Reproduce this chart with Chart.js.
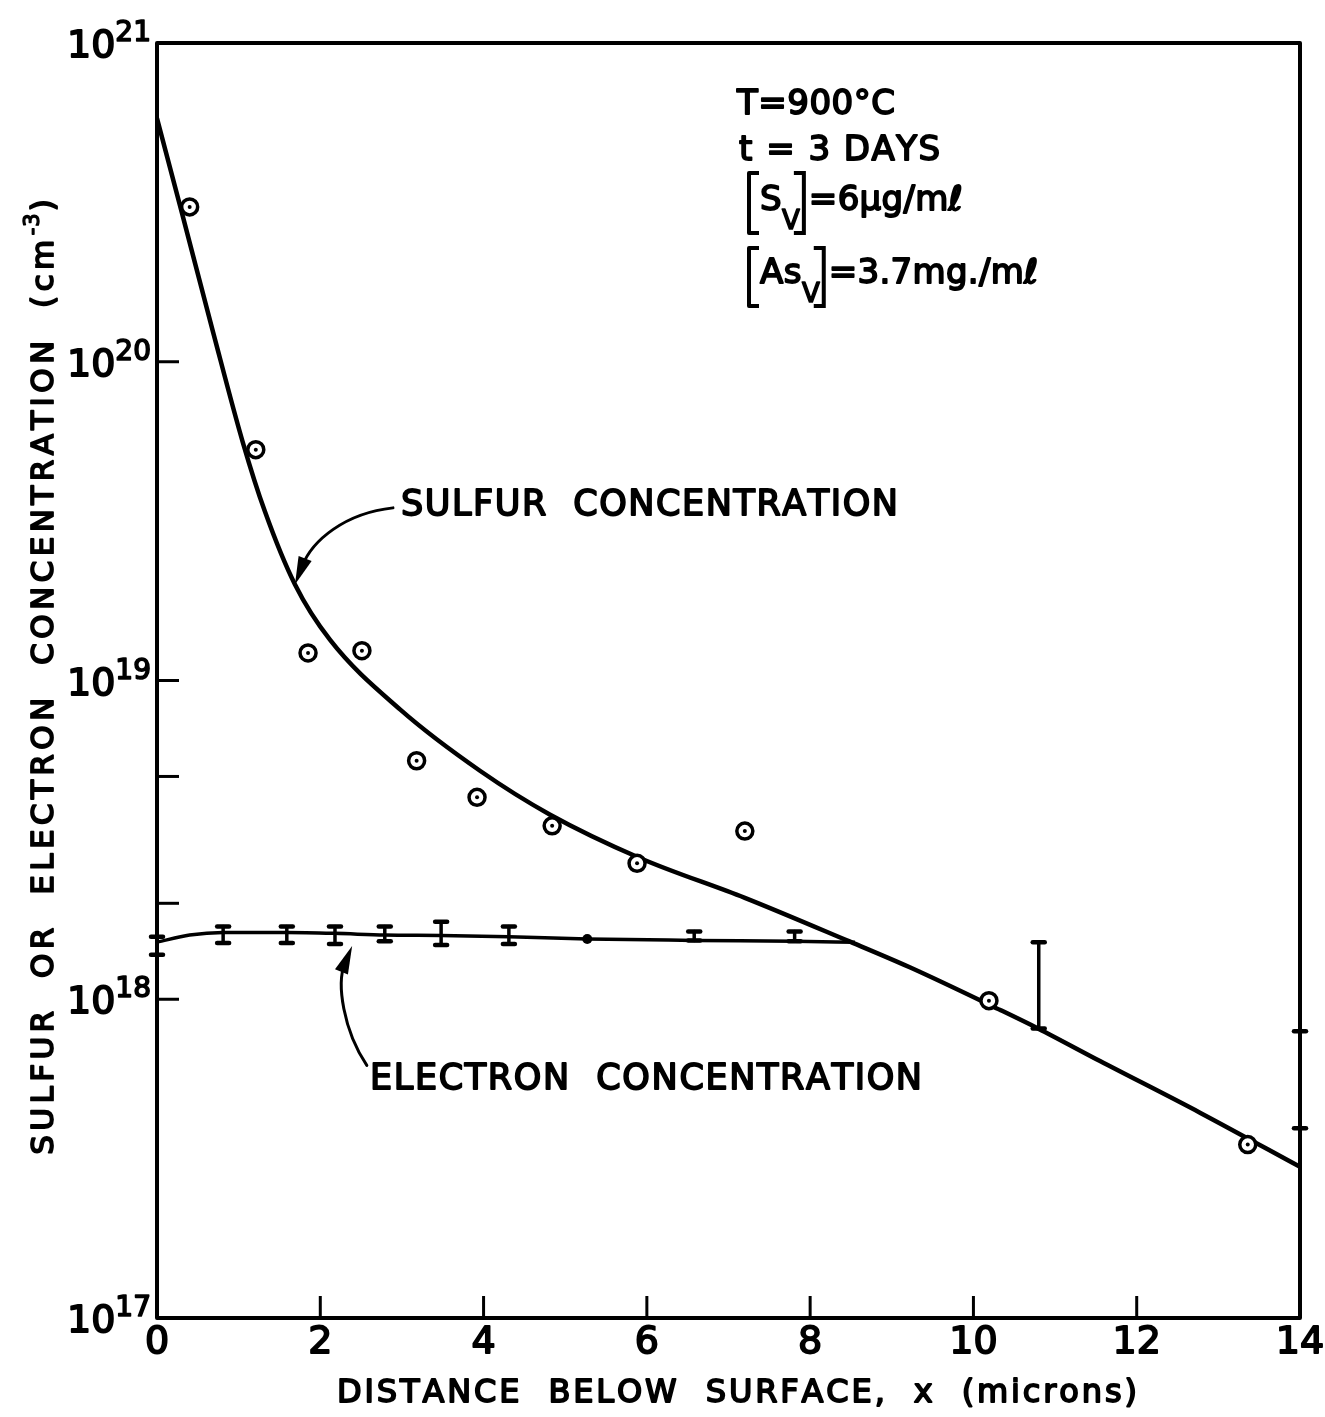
<!DOCTYPE html>
<html>
<head>
<meta charset="utf-8">
<script src="https://cdn.jsdelivr.net/npm/chart.js@4.4.1/dist/chart.umd.min.js"></script>
<style>
  html, body { margin: 0; padding: 0; background: #fff; }
  canvas { display: block; }
</style>
</head>
<body>
<canvas id="profileChart" width="1325" height="1417"></canvas>
<script>
// sulfur profile (smooth curve)
const sulfurCurveX = [0, 0.31, 0.69, 1.05, 1.32, 1.69, 2.12, 2.98, 3.96, 4.81, 5.92, 7.20, 8.45, 9.22, 10.33, 10.79, 11.55, 12.78, 14];
const sulfurCurveY = [5.8e20, 2.9e20, 1.23e20, 5.6e19, 3.4e19, 2.0e19, 1.34e19, 8.1e18, 5.2e18, 3.8e18, 2.77e18, 2.08e18, 1.53e18, 1.26e18, 9.25e17, 8.1e17, 6.4e17, 4.4e17, 2.98e17];

// measured sulfur points
const sulfurX = [0.40, 1.21, 1.85, 2.51, 3.18, 3.92, 4.84, 5.88, 7.20, 10.19, 13.36];
const sulfurY = [3.06e20, 5.3e19, 1.22e19, 1.24e19, 5.6e18, 4.3e18, 3.5e18, 2.67e18, 3.37e18, 9.9e17, 3.5e17];

// electron concentration curve
const electronCurveX = [0, 0.40, 0.81, 1.59, 2.18, 2.79, 3.48, 4.31, 5.27, 6.58, 7.81, 8.55];
const electronCurveY = [1.51e18, 1.59e18, 1.62e18, 1.62e18, 1.61e18, 1.59e18, 1.585e18, 1.57e18, 1.545e18, 1.53e18, 1.52e18, 1.51e18];

// electron measurements with their ranges
const electronX  = [0, 0.81, 1.59, 2.18, 2.79, 3.48, 4.31, 6.58, 7.81, 10.80, 14];
const electronLo = [1.38e18, 1.50e18, 1.50e18, 1.49e18, 1.52e18, 1.48e18, 1.49e18, 1.53e18, 1.52e18, 8.1e17, 3.94e17];
const electronHi = [1.57e18, 1.69e18, 1.69e18, 1.69e18, 1.69e18, 1.75e18, 1.69e18, 1.63e18, 1.63e18, 1.51e18, 7.94e17];
const electronDotX = [5.27];
const electronDotY = [1.545e18];

const xTicks = [0, 2, 4, 6, 8, 10, 12, 14];
const yDecades = [17, 18, 19, 20, 21];
const yInnerTicks = [1e18, 2e18, 5e18, 1e19, 1e20];

const FONT = '"DejaVu Sans", sans-serif';

function toPoints(xs, ys) {
  return xs.map((x, i) => ({ x: x, y: ys[i] }));
}

// letters drawn one by one so the spacing can be opened up
function spacedWidth(ctx, str, gap) {
  let w = 0;
  for (const ch of str) w += ctx.measureText(ch).width + gap;
  return w - gap;
}
function drawSpaced(ctx, str, x, y, gap) {
  for (const ch of str) {
    ctx.fillText(ch, x, y);
    ctx.strokeText(ch, x, y);
    x += ctx.measureText(ch).width + gap;
  }
  return x;
}
function gapFor(ctx, str, width) {
  const n = [...str].length;
  const natural = spacedWidth(ctx, str, 0);
  return (width - natural) / (n - 1);
}

function ink(ctx, size, weight) {
  ctx.font = size + 'px ' + FONT;
  ctx.fillStyle = '#000';
  ctx.strokeStyle = '#000';
  ctx.lineWidth = weight || 1.8;
  ctx.lineJoin = 'round';
  ctx.textAlign = 'left';
  ctx.textBaseline = 'alphabetic';
}

function arrow(ctx, p0, c1, c2, p3) {
  ctx.save();
  ctx.lineWidth = 3;
  ctx.strokeStyle = '#000';
  ctx.lineCap = 'round';
  const ang = Math.atan2(p3.y - c2.y, p3.x - c2.x);
  const headLen = 28, headW = 7;
  const bx = p3.x - Math.cos(ang) * headLen * 0.7;
  const by = p3.y - Math.sin(ang) * headLen * 0.7;
  ctx.beginPath();
  ctx.moveTo(p0.x, p0.y);
  ctx.bezierCurveTo(c1.x, c1.y, c2.x, c2.y, bx, by);
  ctx.stroke();
  ctx.beginPath();
  ctx.moveTo(p3.x, p3.y);
  ctx.lineTo(p3.x - Math.cos(ang) * headLen + Math.sin(ang) * headW,
             p3.y - Math.sin(ang) * headLen - Math.cos(ang) * headW);
  ctx.lineTo(p3.x - Math.cos(ang) * headLen - Math.sin(ang) * headW,
             p3.y - Math.sin(ang) * headLen + Math.cos(ang) * headW);
  ctx.closePath();
  ctx.fillStyle = '#000';
  ctx.fill();
  ctx.restore();
}

const decorations = {
  id: 'decorations',
  afterDatasetsDraw(chart) {
    const ctx = chart.ctx;
    const xs = chart.scales.x, ys = chart.scales.y;
    ctx.save();
    ctx.strokeStyle = '#000';
    ctx.lineCap = 'round';
    // electron ranges
    electronX.forEach((x, i) => {
      const px = xs.getPixelForValue(x);
      const lo = ys.getPixelForValue(electronLo[i]);
      const hi = ys.getPixelForValue(electronHi[i]);
      ctx.lineWidth = 3.5;
      ctx.beginPath();
      ctx.moveTo(px, lo);
      ctx.lineTo(px, hi);
      ctx.stroke();
      ctx.lineWidth = 4.5;
      [lo, hi].forEach(py => {
        ctx.beginPath();
        ctx.moveTo(px - 6, py);
        ctx.lineTo(px + 6, py);
        ctx.stroke();
      });
    });
    ctx.restore();
  },
  afterDraw(chart) {
    const ctx = chart.ctx;
    const a = chart.chartArea;
    const xs = chart.scales.x, ys = chart.scales.y;
    const at = (x, y) => ({ x: xs.getPixelForValue(x), y: ys.getPixelForValue(y) });
    ctx.save();

    // frame
    ctx.strokeStyle = '#000';
    ctx.lineWidth = 4;
    ctx.lineJoin = 'round';
    ctx.strokeRect(a.left, a.top, a.right - a.left, a.bottom - a.top);

    // inward tick marks
    ctx.lineWidth = 3;
    xTicks.slice(1, -1).forEach(v => {
      const px = xs.getPixelForValue(v);
      ctx.beginPath();
      ctx.moveTo(px, a.bottom);
      ctx.lineTo(px, a.bottom - 22);
      ctx.stroke();
    });
    yInnerTicks.forEach(v => {
      const py = ys.getPixelForValue(v);
      ctx.beginPath();
      ctx.moveTo(a.left, py);
      ctx.lineTo(a.left + 22, py);
      ctx.stroke();
    });

    // x tick labels
    ink(ctx, 38, 1.8);
    ctx.textAlign = 'center';
    xTicks.forEach(v => {
      const px = xs.getPixelForValue(v);
      ctx.fillText(String(v), px, a.bottom + 35);
      ctx.strokeText(String(v), px, a.bottom + 35);
    });

    // y tick labels, powers of ten
    yDecades.forEach(e => {
      const py = ys.getPixelForValue(Math.pow(10, e));
      ink(ctx, 38, 1.8);
      const wBase = ctx.measureText('10').width;
      ctx.font = '28px ' + FONT;
      const wExp = ctx.measureText(String(e)).width;
      const x0 = a.left - 6 - wBase - wExp;
      ink(ctx, 38, 1.8);
      ctx.fillText('10', x0, py + 14);
      ctx.strokeText('10', x0, py + 14);
      ink(ctx, 28, 1.6);
      ctx.fillText(String(e), x0 + wBase, py - 2);
      ctx.strokeText(String(e), x0 + wBase, py - 2);
    });

    // x axis title
    const xTitle = 'DISTANCE  BELOW  SURFACE,  x  (microns)';
    ink(ctx, 32);
    let gap = gapFor(ctx, xTitle, 800);
    let w = spacedWidth(ctx, xTitle, gap);
    drawSpaced(ctx, xTitle, 737 - w / 2, a.bottom + 84, gap);

    // y axis title, rotated
    ctx.save();
    ctx.translate(53, 677);
    ctx.rotate(-Math.PI / 2);
    const yMain = 'SULFUR  OR  ELECTRON  CONCENTRATION  (cm';
    ink(ctx, 31);
    gap = gapFor(ctx, yMain, 915);
    const wMain = spacedWidth(ctx, yMain, gap);
    ctx.font = '21px ' + FONT;
    const wSup = spacedWidth(ctx, '-3', 1);
    ctx.font = '31px ' + FONT;
    const wClose = ctx.measureText(')').width;
    const total = wMain + gap + wSup + 2 + wClose;
    let cx = -total / 2;
    cx = drawSpaced(ctx, yMain, cx, 0, gap);
    ink(ctx, 21, 1.4);
    cx = drawSpaced(ctx, '-3', cx, -14, 1);
    ink(ctx, 31);
    drawSpaced(ctx, ')', cx + 1, 0, 0);
    ctx.restore();

    // curve captions
    const sText = 'SULFUR  CONCENTRATION';
    ink(ctx, 35);
    gap = gapFor(ctx, sText, 497);
    drawSpaced(ctx, sText, 401, 515, gap);
    const eText = 'ELECTRON  CONCENTRATION';
    gap = gapFor(ctx, eText, 552);
    drawSpaced(ctx, eText, 370, 1089, gap);

    arrow(ctx, at(2.89, 3.48e19), at(2.30, 3.35e19), at(1.90, 2.75e19), at(1.69, 2.0e19));
    arrow(ctx, at(2.57, 6.2e17), at(2.28, 8.0e17), at(2.20, 1.12e18), at(2.39, 1.47e18));

    // run conditions
    const lx = 737;
    ink(ctx, 34);
    drawSpaced(ctx, 'T=900°C', lx, 114, 0.5);
    drawSpaced(ctx, 't = 3 DAYS', lx + 2, 160, 1.5);

    function bracketed(sym, rest, base, top, bottom) {
      ctx.save();
      ctx.strokeStyle = '#000';
      ctx.lineWidth = 4;
      ctx.lineCap = 'butt';
      ctx.beginPath();
      ctx.moveTo(lx + 22, top); ctx.lineTo(lx + 12, top); ctx.lineTo(lx + 12, bottom); ctx.lineTo(lx + 22, bottom);
      ctx.stroke();
      ink(ctx, 34);
      let x = drawSpaced(ctx, sym, lx + 23, base, 0.5);
      ink(ctx, 26, 1.6);
      x = drawSpaced(ctx, 'V', x, base + 19, 0);
      const rb = x + 4;
      ctx.lineWidth = 4;
      ctx.lineJoin = 'miter';
      ctx.beginPath();
      ctx.moveTo(rb - 10, top); ctx.lineTo(rb, top); ctx.lineTo(rb, bottom); ctx.lineTo(rb - 10, bottom);
      ctx.stroke();
      ink(ctx, 34);
      drawSpaced(ctx, rest, rb + 5, base, 0.3);
      ctx.restore();
    }
    bracketed('S', '=6μg/mℓ', 210, 173, 233);
    bracketed('As', '=3.7mg./mℓ', 283, 248, 306);

    ctx.restore();
  }
};

new Chart(document.getElementById('profileChart').getContext('2d'), {
  type: 'scatter',
  data: {
    datasets: [
      {
        label: 'Sulfur (centre mark)',
        data: toPoints(sulfurX, sulfurY),
        pointRadius: 2,
        pointBackgroundColor: '#000',
        pointBorderWidth: 0,
        showLine: false
      },
      {
        label: 'Sulfur (measured)',
        data: toPoints(sulfurX, sulfurY),
        pointStyle: 'circle',
        pointRadius: 8,
        pointBorderWidth: 3.5,
        pointBorderColor: '#000',
        pointBackgroundColor: '#fff',
        showLine: false
      },
      {
        label: 'Electron (single reading)',
        data: toPoints(electronDotX, electronDotY),
        pointRadius: 5,
        pointBackgroundColor: '#000',
        pointBorderWidth: 0,
        showLine: false
      },
      {
        label: 'Electron concentration',
        type: 'line',
        data: toPoints(electronCurveX, electronCurveY),
        borderColor: '#000',
        borderWidth: 3.5,
        pointRadius: 0,
        cubicInterpolationMode: 'monotone',
        fill: false
      },
      {
        label: 'Sulfur concentration',
        type: 'line',
        data: toPoints(sulfurCurveX, sulfurCurveY),
        borderColor: '#000',
        borderWidth: 4.5,
        pointRadius: 0,
        cubicInterpolationMode: 'monotone',
        fill: false
      }
    ]
  },
  options: {
    responsive: false,
    animation: false,
    devicePixelRatio: 1,
    layout: { padding: { left: 157, top: 43, right: 25, bottom: 99 } },
    plugins: { legend: { display: false }, tooltip: { enabled: false } },
    scales: {
      x: { type: 'linear', min: 0, max: 14, display: false },
      y: { type: 'logarithmic', min: 1e17, max: 1e21, display: false }
    }
  },
  plugins: [decorations]
});
</script>
</body>
</html>
